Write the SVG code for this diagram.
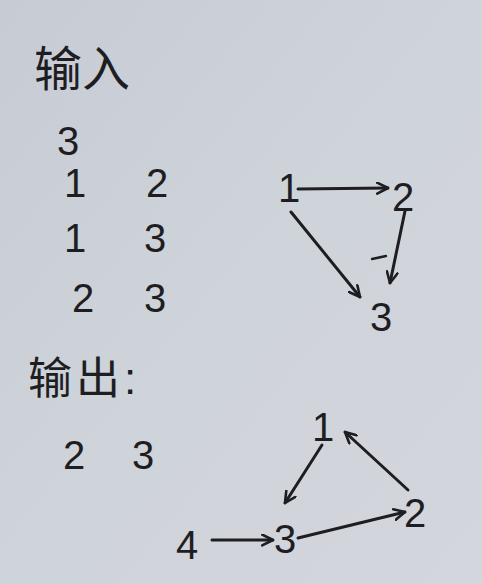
<svg xmlns="http://www.w3.org/2000/svg" width="482" height="584" viewBox="0 0 482 584">
<defs>
<linearGradient id="bg" x1="0" y1="0" x2="1" y2="1">
<stop offset="0" stop-color="#c7ccd4"/>
<stop offset="0.5" stop-color="#cfd3da"/>
<stop offset="1" stop-color="#d3d6dc"/>
</linearGradient>
<marker id="ah" viewBox="0 0 12 12" refX="11" refY="6" markerWidth="13" markerHeight="13" markerUnits="userSpaceOnUse" orient="auto">
<path d="M1,1 L11,6 L1,11" fill="none" stroke="#1e1e22" stroke-width="2.4" stroke-linecap="round" stroke-linejoin="round"/>
</marker>
</defs>
<style>
.t{font-family:"Liberation Sans","Noto Sans CJK SC",sans-serif;fill:#1e1e22;}
.n{font-size:40px;}
.h{font-size:48px;}
.o{font-size:44px;letter-spacing:4px;}
.c{fill:none;stroke:#1e1e22;stroke-width:3;stroke-linecap:round;marker-end:url(#ah);}
</style>
<rect width="482" height="584" fill="url(#bg)"/>
<g id="text-input">
<text class="t h" x="34" y="86">输入</text>
<text class="t n" x="57" y="155">3</text>
<text class="t n" x="64" y="197">1</text>
<text class="t n" x="146" y="197">2</text>
<text class="t n" x="64" y="252">1</text>
<text class="t n" x="144" y="252">3</text>
<text class="t n" x="72" y="312">2</text>
<text class="t n" x="144" y="312">3</text>
</g>
<g id="text-output">
<text class="t o" x="28" y="394">输出:</text>
<text class="t n" x="63" y="469">2</text>
<text class="t n" x="132" y="469">3</text>
</g>
<g id="g1-n1"><text class="t n" x="278" y="202">1</text></g>
<g id="g1-n2"><text class="t n" x="392" y="211">2</text></g>
<g id="g1-n3"><text class="t n" x="370" y="331">3</text></g>
<g id="g2-n1"><text class="t n" x="312" y="441">1</text></g>
<g id="g2-n2"><text class="t n" x="404" y="527">2</text></g>
<g id="g2-n3"><text class="t n" x="274" y="553">3</text></g>
<g id="g2-n4"><text class="t n" x="176" y="559">4</text></g>
<g id="connectors">
<line class="c" x1="298" y1="189" x2="388" y2="188"/>
<line class="c" x1="291" y1="212" x2="360" y2="297"/>
<line class="c" x1="405" y1="211" x2="390" y2="283"/>
<path d="M372,259 L386,256" fill="none" stroke="#1e1e22" stroke-width="2.4" stroke-linecap="round"/>
<line class="c" x1="322" y1="445" x2="285" y2="503"/>
<line class="c" x1="408" y1="490" x2="345" y2="432"/>
<line class="c" x1="298" y1="538" x2="405" y2="512"/>
<line class="c" x1="212" y1="540" x2="273" y2="540"/>
</g>
</svg>
